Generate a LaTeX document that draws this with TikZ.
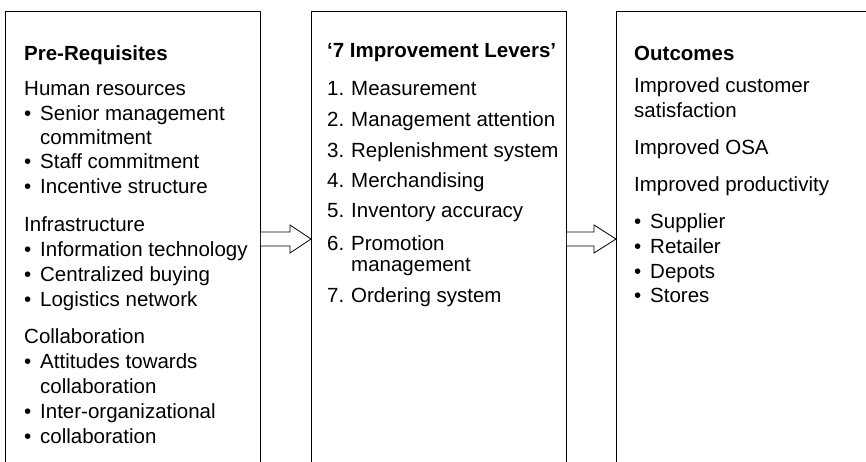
\documentclass[tikz,border=0pt]{standalone}
\usepackage{fontspec}
\setmainfont{Liberation Sans}
\usetikzlibrary{calc}
\tikzset{
  box/.style={draw, line width=0.8pt, rectangle, anchor=north west, minimum height=500pt, inner sep=0pt},
  txt/.style={anchor=base west, inner sep=0pt, font=\fontsize{20.5}{24}\selectfont},
  hd/.style={txt, font=\fontsize{20.5}{24}\selectfont\bfseries},
  fatarrow/.style={draw, line width=0.8pt, fill=white, line join=miter}
}
\newcommand{\bl}{\makebox[16pt][l]{•}}
\newcommand{\ind}{\hspace*{16pt}}
\newcommand{\nm}[1]{\makebox[24pt][l]{#1}}
\begin{document}
\begin{tikzpicture}[x=1pt, y=-1pt]
\useasboundingbox (0,0) rectangle (866,462);
\clip (0,0) rectangle (866,462);
\node[box, minimum width=255pt] (pre) at (5,11.5) {};
\node[box, minimum width=255pt] (lev) at (311,11.5) {};
\node[box, minimum width=280pt] (out) at (616,11.5) {};
% left column
\node[hd]  (p0)  at (24,61)  {Pre-Requisites};
\node[txt] (p1)  at (24,96)  {Human resources};
\node[txt] (p2)  at (24,121) {\bl Senior management};
\node[txt] (p3)  at (24,145) {\ind commitment};
\node[txt] (p4)  at (24,169) {\bl Staff commitment};
\node[txt] (p5)  at (24,194) {\bl Incentive structure};
\node[txt] (p6)  at (24,232) {Infrastructure};
\node[txt] (p7)  at (24,256) {\bl Information technology};
\node[txt] (p8)  at (24,281) {\bl Centralized buying};
\node[txt] (p9)  at (24,306) {\bl Logistics network};
\node[txt] (p10) at (24,343) {Collaboration};
\node[txt] (p11) at (24,368) {\bl Attitudes towards};
\node[txt] (p12) at (24,393) {\ind collaboration};
\node[txt] (p13) at (24,418) {\bl Inter-organizational};
\node[txt] (p14) at (24,443) {\bl collaboration};
% middle column
\node[hd]  (m0) at (327,58)  {‘7 Improvement Levers’};
\node[txt] (m1) at (327,96)  {\nm{1.}Measurement};
\node[txt] (m2) at (327,127) {\nm{2.}Management attention};
\node[txt] (m3) at (327,158) {\nm{3.}Replenishment system};
\node[txt] (m4) at (327,188) {\nm{4.}Merchandising};
\node[txt] (m5) at (327,218) {\nm{5.}Inventory accuracy};
\node[txt] (m6) at (327,250) {\nm{6.}Promotion};
\node[txt] (m7) at (327,271) {\nm{}management};
\node[txt] (m8) at (327,302) {\nm{7.}Ordering system};
% right column
\node[hd]  (o0) at (634,61)  {Outcomes};
\node[txt] (o1) at (634,93)  {Improved customer};
\node[txt] (o2) at (634,118) {satisfaction};
\node[txt] (o3) at (634,155) {Improved OSA};
\node[txt] (o4) at (634,192) {Improved productivity};
\node[txt] (o5) at (634,228) {\bl Supplier};
\node[txt] (o6) at (634,253) {\bl Retailer};
\node[txt] (o7) at (634,278) {\bl Depots};
\node[txt] (o8) at (634,302) {\bl Stores};
% arrows
\path (pre.north east) ++(0,227.5) coordinate (a1);
\path (lev.north west) ++(0,227.5) coordinate (b1);
\path (lev.north east) ++(0,227.5) coordinate (a2);
\path (out.north west) ++(0,227.5) coordinate (b2);
\draw[fatarrow] ($(a1)+(0,-7)$) -- ($(b1)+(-21,-7)$) -- ($(b1)+(-21,-14)$) -- (b1)
  -- ($(b1)+(-21,14)$) -- ($(b1)+(-21,7)$) -- ($(a1)+(0,7)$);
\draw[fatarrow] ($(a2)+(0,-7)$) -- ($(b2)+(-22,-7)$) -- ($(b2)+(-22,-14)$) -- (b2)
  -- ($(b2)+(-22,14)$) -- ($(b2)+(-22,7)$) -- ($(a2)+(0,7)$);
\end{tikzpicture}
\end{document}
